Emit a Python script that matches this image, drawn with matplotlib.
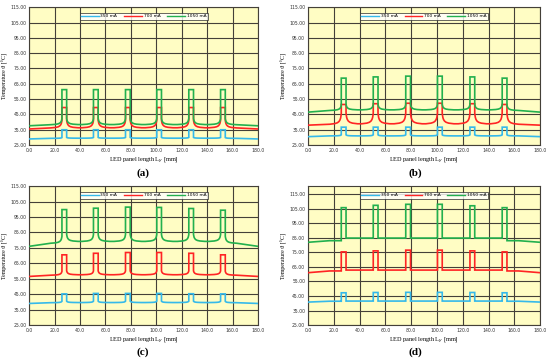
import matplotlib
matplotlib.use("Agg")
import matplotlib.pyplot as plt

# pulse (LED) positions along the panel, left edges [mm] and width [mm]
led_left = [25.8, 50.6, 75.8, 100.4, 125.6, 150.6]
led_width = 3.7
x_max = 180.0

series_names = ["350 mA", "700 mA", "1050 mA"]
series_colors = ["#35B9EA", "#FF2424", "#22B04E"]

# per panel, per series: value at ends, level before first edge, inner valley,
# rise of the shoulder at the pulse edge, peak tops
a_end = [29.0, 35.5, 37.6]
a_outer = [29.4, 36.2, 38.3]
a_valley = [29.5, 36.3, 38.4]
a_rise = [0.5, 5.0, 4.0]
a_peaks = [[35.0] * 6, [49.5] * 6, [61.2] * 6]

b_end = [30.5, 38.0, 46.5]
b_outer = [31.0, 38.6, 47.6]
b_valley = [31.0, 38.9, 48.0]
b_rise = [0.7, 7.0, 3.5]
b_peaks = [[36.7] * 6,
           [51.5, 52.0, 52.3, 52.3, 52.0, 51.5],
           [68.7, 69.5, 70.0, 70.0, 69.5, 68.7]]

c_end = [39.0, 56.5, 76.0]
c_outer = [39.5, 57.3, 78.0]
c_valley = [39.6, 57.6, 79.2]
c_rise = [0.9, 2.5, 4.5]
c_peaks = [[45.2, 45.5, 45.5, 45.5, 45.3, 45.2],
           [70.5, 71.5, 72.0, 72.0, 71.5, 70.5],
           [99.8, 100.7, 101.4, 101.2, 100.5, 99.4]]

d_end = [40.8, 61.0, 81.9]
d_outer = [41.4, 62.2, 83.0]
d_valley = [41.5, 62.8, 84.8]
d_rise = [0.0, 0.0, 0.0]
d_peaks = [[47.2, 47.4, 47.5, 47.5, 47.4, 47.2],
           [75.3, 76.0, 76.5, 76.5, 76.0, 75.3],
           [105.7, 107.3, 108.0, 108.0, 107.0, 105.7]]

# shoulder shape: distance from edge [mm], share of the rise
shoulder_dist = [9.0, 5.0, 3.0, 1.8, 1.0, 0.5, 0.2, 0.0]
shoulder_frac = [0.0, 0.06, 0.14, 0.25, 0.4, 0.58, 0.8, 1.0]

panels = [
    ("(a)", a_end, a_outer, a_valley, a_rise, a_peaks, 115.0),
    ("(b)", b_end, b_outer, b_valley, b_rise, b_peaks, 115.0),
    ("(c)", c_end, c_outer, c_valley, c_rise, c_peaks, 115.0),
    ("(d)", d_end, d_outer, d_valley, d_rise, d_peaks, 120.5),
]
axes_pos = [
    [0.053, 0.597, 0.416, 0.383],
    [0.560, 0.597, 0.422, 0.383],
    [0.053, 0.097, 0.416, 0.386],
    [0.560, 0.097, 0.422, 0.386],
]
label_pos = [(143, 173), (415, 173), (143, 352), (415, 352)]


def build_curve(end, outer, valley, rise, peaks):
    xs = [0.0]
    ys = [end]
    n = len(led_left)
    for i, xl in enumerate(led_left):
        xr = xl + led_width
        floor_l = outer if i == 0 else valley
        floor_r = outer if i == n - 1 else valley
        # approach left edge
        for d, f in zip(shoulder_dist, shoulder_frac):
            xs.append(xl - d)
            ys.append(floor_l + rise * f)
        xs += [xl, xr]
        ys += [peaks[i], peaks[i]]
        # leave right edge
        for d, f in zip(reversed(shoulder_dist), reversed(shoulder_frac)):
            xs.append(xr + d)
            ys.append(floor_r + rise * f)
    xs.append(x_max)
    ys.append(end)
    return xs, ys


fig = plt.figure(figsize=(5.5, 3.6), dpi=100)

for k, (tag, ends, outers, valleys, rises, peaks, ytop) in enumerate(panels):
    ax = fig.add_axes(axes_pos[k])
    ax.set_facecolor("#FFFDC4")
    for s in range(3):
        xs, ys = build_curve(ends[s], outers[s], valleys[s], rises[s], peaks[s])
        ax.plot(xs, ys, color=series_colors[s], lw=1.2, label=series_names[s],
                solid_joinstyle="miter", zorder=3)
    ax.set_xlim(0, 180)
    ax.set_ylim(25, ytop)
    ax.set_xticks(range(0, 181, 20))
    ax.set_xticklabels(["%.1f" % v for v in range(0, 181, 20)])
    yt = list(range(25, 116, 10))
    ax.set_yticks(yt)
    ax.set_yticklabels(["%.2f" % v for v in yt])
    ax.tick_params(labelsize=3.3, length=0, pad=2, colors="#333333")
    ax.grid(True, color="#444038", lw=0.8)
    ax.set_axisbelow(True)
    for sp in ax.spines.values():
        sp.set_color("#444038")
        sp.set_linewidth(0.8)
    ax.set_xlabel("LED panel length L$_y$ [mm]", fontsize=4.5,
                  family="Liberation Serif", labelpad=2)
    ax.set_ylabel("Temperature ϑ [°C]", fontsize=4.2,
                  family="Liberation Serif", labelpad=1.5)
    leg = ax.legend(loc="upper center", bbox_to_anchor=(0.5, 0.975), ncol=3,
                    fontsize=3.2, frameon=True, fancybox=False,
                    handlelength=4, columnspacing=1.5, borderpad=0.3,
                    handletextpad=0.4)
    leg.get_frame().set_edgecolor("#222222")
    leg.get_frame().set_linewidth(0.6)
    for line in leg.get_lines():
        line.set_linewidth(1.0)
    lx, ly = label_pos[k]
    fig.text(lx / 550, 1 - ly / 360, tag, ha="center", va="center",
             fontsize=8, fontweight="bold", family="Liberation Serif")

fig.savefig("out.png", dpi=100)
